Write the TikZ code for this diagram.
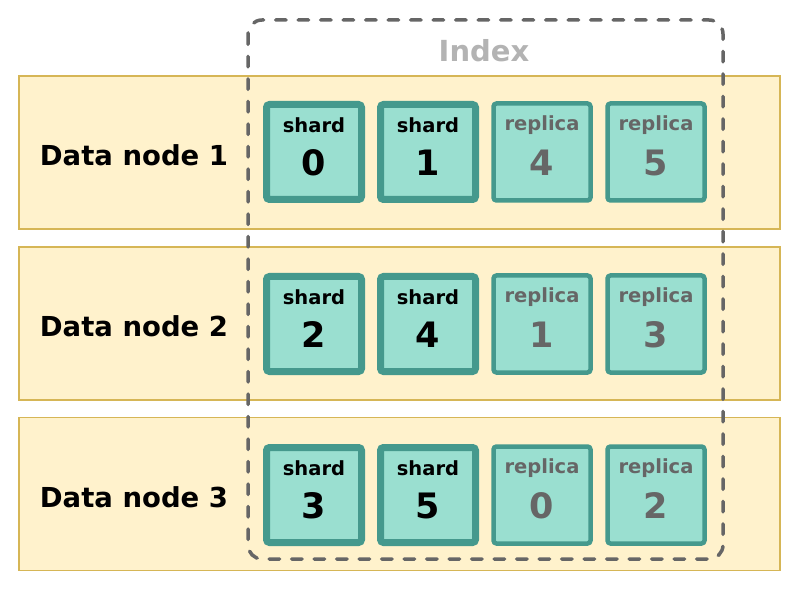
\documentclass[tikz,border=0pt]{standalone}
\usepackage{fontspec}
\setmainfont{DejaVu Sans}
\definecolor{rowfill}{HTML}{FFF2CC}
\definecolor{rowline}{HTML}{D6B656}
\definecolor{boxfill}{HTML}{9ADFD0}
\definecolor{boxline}{HTML}{45998D}
\definecolor{idxline}{HTML}{666666}
\definecolor{idxtext}{HTML}{B3B3B3}
\definecolor{reptext}{HTML}{666666}
\begin{document}
\begin{tikzpicture}[x=1pt,y=-1pt,
  datarow/.style={draw=rowline,fill=rowfill,line width=1.8pt,minimum width=761pt,minimum height=153pt,inner sep=0pt},
  shardbox/.style={draw=boxline,fill=boxfill,line width=7pt,rounded corners=3pt,minimum width=95pt,minimum height=95pt,inner sep=0pt},
  replicabox/.style={draw=boxline,fill=boxfill,line width=4.5pt,rounded corners=3pt,minimum width=97pt,minimum height=97pt,inner sep=0pt},
  rowlabel/.style={font=\bfseries\fontsize{27.5}{32}\selectfont,text=black},
  toplabel/.style={font=\bfseries\fontsize{19.5}{23}\selectfont},
  numlabel/.style={font=\bfseries\fontsize{35}{40}\selectfont},
  idxbox/.style={draw=idxline,line width=3.5pt,line cap=round,dash pattern=on 10.5pt off 12pt,rounded corners=14pt}
]
\useasboundingbox (0,0) rectangle (800,593);
% data node rows
\node[datarow] (row1) at (399.5,152.5) {};
\node[datarow] (row2) at (399.5,323.5) {};
\node[datarow] (row3) at (399.5,494) {};
\node[rowlabel] (lab1) at (134,155) {Data node 1};
\node[rowlabel] (lab2) at (134,326) {Data node 2};
\node[rowlabel] (lab3) at (134,497) {Data node 3};
% boxes
\foreach \r/\y/\a/\b/\c/\d in {1/152/0/1/4/5, 2/324/2/4/1/3, 3/495/3/5/0/2}{
  \node[shardbox] (s\r a) at (314,\y) {};
  \node[shardbox] (s\r b) at (428,\y) {};
  \node[replicabox] (s\r c) at (542,\y) {};
  \node[replicabox] (s\r d) at (656,\y) {};
  \node[toplabel,text=black] (t\r a) at (314,\y-27) {shard};
  \node[toplabel,text=black] (t\r b) at (428,\y-27) {shard};
  \node[toplabel,text=reptext] (t\r c) at (542,\y-27) {replica};
  \node[toplabel,text=reptext] (t\r d) at (656,\y-27) {replica};
  \node[numlabel,text=black] (n\r a) at (314,\y+11) {\a};
  \node[numlabel,text=black] (n\r b) at (428,\y+11) {\b};
  \node[numlabel,text=reptext] (n\r c) at (542,\y+11) {\c};
  \node[numlabel,text=reptext] (n\r d) at (656,\y+11) {\d};
}
% index
\draw[idxbox] (248,20) rectangle (723,559);
\node[font=\bfseries\fontsize{29}{33}\selectfont,text=idxtext] (idx) at (484,51) {Index};
\end{tikzpicture}
\end{document}
